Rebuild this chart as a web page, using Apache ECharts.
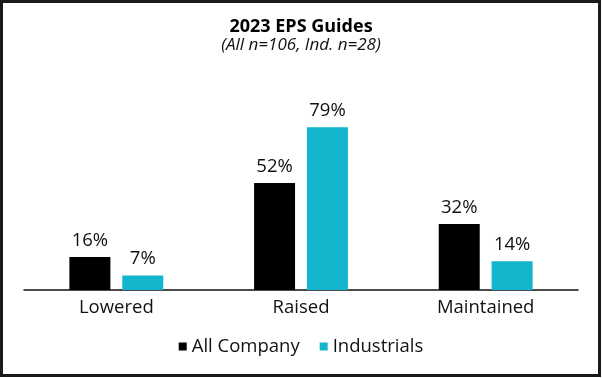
<!DOCTYPE html>
<html><head><meta charset="utf-8">
<script src="https://cdn.jsdelivr.net/npm/echarts@6/dist/echarts.min.js"></script>
<style>html,body{margin:0;padding:0;background:#fff}#c{width:602px;height:378px}</style>
</head><body><div id="c"></div>
<script>
const categories = ['Lowered', 'Raised', 'Maintained'];
const allCompany = [16, 52, 32];
const industrials = [7, 79, 14];
const seriesNames = ['All Company', 'Industrials'];
const titleText = '2023 EPS Guides';
const subtitleText = '(All n=106, Ind. n=28)';

const chart = echarts.init(document.getElementById('c'), null, {renderer: 'canvas'});
const font = '"Open Sans", Lato, sans-serif';
const lbl = {show: true, position: 'top', distance: 7, formatter: '{c}%', color: '#111', fontSize: 18.5, fontFamily: font};
chart.setOption({
  animation: false,
  backgroundColor: '#fff',
  title: {
    text: titleText, subtext: subtitleText, left: 'center', top: 13, itemGap: 1,
    textStyle: {fontFamily: font, fontWeight: 'bold', fontSize: 18, color: '#000'},
    subtextStyle: {fontFamily: font, fontStyle: 'italic', fontSize: 17, color: '#111'}
  },
  legend: {
    bottom: 17, left: 'center', itemWidth: 8, itemHeight: 8, itemGap: 20,
    icon: 'rect',
    textStyle: {fontFamily: font, fontSize: 18.5, color: '#111', padding: [0, 0, 0, 0]},
    data: seriesNames
  },
  grid: {left: 24, right: 24, top: 84, bottom: 88},
  xAxis: {
    type: 'category', data: categories,
    axisLine: {lineStyle: {color: '#111', width: 1.5}},
    axisTick: {show: false},
    axisLabel: {fontFamily: font, fontSize: 18.5, color: '#111', margin: 8}
  },
  yAxis: {type: 'value', min: 0, max: 100, show: false, splitLine: {show: false}},
  series: [
    {name: seriesNames[0], type: 'bar', data: allCompany, barWidth: 41, barGap: '29%', itemStyle: {color: '#000'}, label: lbl},
    {name: seriesNames[1], type: 'bar', data: industrials, barWidth: 41, itemStyle: {color: '#12b5cb'}, label: lbl}
  ],
  graphic: [{
    type: 'rect', silent: true, z: 100,
    shape: {x: 1.5, y: 1.5, width: 598, height: 374},
    style: {fill: 'none', stroke: '#1a1a1a', lineWidth: 3}
  }]
});
</script></body></html>
